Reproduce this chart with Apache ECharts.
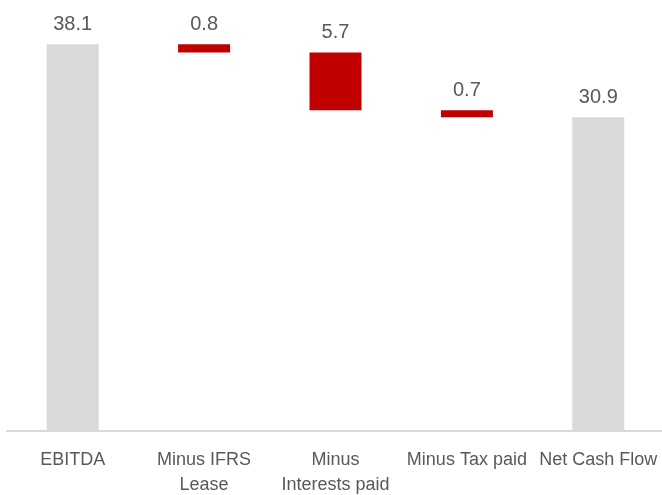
<!DOCTYPE html>
<html lang="en">
<head>
    <meta charset="utf-8">
    <title>Cash flow bridge</title>
    <script src="https://cdn.jsdelivr.net/npm/echarts@6/dist/echarts.min.js"></script>
    <style>
        html, body { margin: 0; padding: 0; background: #fff; }
        #main { width: 662px; height: 495px; }
    </style>
</head>
<body>
    <div id="main"></div>
<script>
    // 数据
    var categories = ['EBITDA', 'Minus IFRS\nLease', 'Minus\nInterests paid', 'Minus Tax paid', 'Net Cash Flow'];
    var values = [38.1, 0.8, 5.7, 0.7, 30.9];
    var isTotal = [true, false, false, false, true];

    // 瀑布图的底部（透明）
    var bases = [];
    var running = 0;
    for (var i = 0; i < values.length; i++) {
        if (isTotal[i]) {
            bases.push(0);
            running = values[i];
        } else {
            running = running - values[i];
            bases.push(+running.toFixed(1));
        }
    }

    var shown = values.map(function (v, i) {
        return {
            value: v,
            itemStyle: { color: isTotal[i] ? '#d9d9d9' : '#c00000' }
        };
    });

    var myChart = echarts.init(document.getElementById('main'));
    var option = {
        animation: false,
        grid: { left: 7, width: 657, top: 25, bottom: 64, outerBoundsMode: 'none' },
        xAxis: {
            type: 'category',
            data: categories,
            axisLine: { lineStyle: { color: '#d9d9d9', width: 2 } },
            axisTick: { show: false },
            axisLabel: {
                interval: 0,
                margin: 17,
                color: '#595959',
                fontSize: 18,
                lineHeight: 25,
                fontFamily: 'Liberation Sans'
            }
        },
        yAxis: {
            type: 'value',
            min: 0,
            max: 40,
            show: false,
            splitLine: { show: false }
        },
        series: [{
            type: 'bar',
            stack: 'w',
            barWidth: 52,
            data: bases,
            itemStyle: { color: 'transparent' },
            silent: true
        }, {
            type: 'bar',
            stack: 'w',
            barWidth: 52,
            data: shown,
            label: {
                show: true,
                position: 'top',
                distance: 10,
                color: '#595959',
                fontSize: 20,
                fontFamily: 'Liberation Sans',
                formatter: function (p) { return p.value.toFixed(1); }
            }
        }]
    };
    myChart.setOption(option);
</script>
</body>
</html>
